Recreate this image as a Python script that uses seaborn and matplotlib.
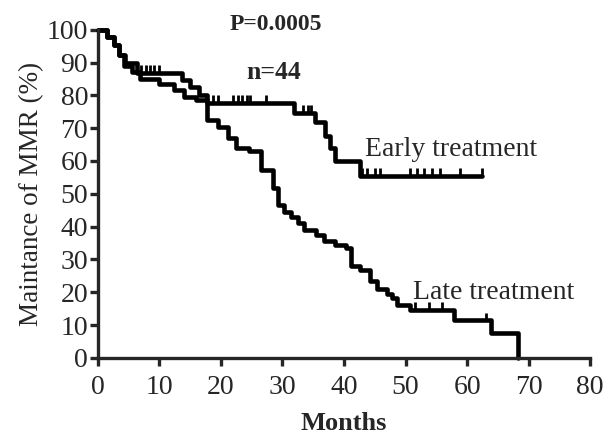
import matplotlib
matplotlib.use('Agg')
import matplotlib.pyplot as plt
import seaborn as sns
import numpy as np
import pandas as pd

# Kaplan-Meier step points (months, % maintaining MMR)
early_months = [0, 1.5, 2.6, 3.4, 4.5, 6.3, 13.7, 15.0, 16.5, 17.8, 31.8, 35.3, 36.9, 37.8, 38.6, 42.6, 62.5]
early_pct = [100, 97.7, 95.4, 92.3, 89.8, 86.8, 84.8, 82.5, 80.2, 77.7, 74.7, 72.0, 67.5, 64.0, 60.0, 55.5, 55.5]
early_cens_months = [7.0, 7.8, 8.5, 9.2, 10.0, 18.8, 19.5, 21.9, 22.8, 23.5, 24.2, 24.8, 27.3,
                     33.4, 34.2, 34.7, 43.0, 43.7, 45.0, 45.8, 50.7, 51.9, 53.0, 54.3, 55.6, 58.8, 62.5]

late_months = [0, 1.5, 2.6, 3.4, 4.2, 5.5, 6.8, 9.9, 12.4, 14.0, 16.0, 17.8, 19.6, 21.1, 22.4, 24.5,
               26.5, 28.5, 29.3, 30.3, 31.4, 32.5, 33.5, 35.5, 36.7, 38.5, 40.4, 41.2, 42.6, 44.2,
               45.3, 47.0, 47.8, 48.6, 50.7, 57.9, 63.8, 68.3]
late_pct = [100, 97.7, 95.4, 92.3, 89.0, 87.0, 85.0, 83.5, 81.7, 79.5, 78.6, 72.6, 70.4, 67.0, 64.0, 63.0,
            57.3, 51.8, 46.6, 44.5, 43.0, 41.0, 39.0, 37.5, 35.5, 34.5, 33.5, 28.0, 26.8, 23.5,
            21.0, 19.5, 18.3, 16.2, 14.5, 11.4, 7.6, 0]
late_cens_months = [51.6, 53.8, 56.0, 63.0]

x_ticks = list(range(0, 90, 10))
y_ticks = list(range(0, 110, 10))


def step_value(months, pct, t):
    # value of the step curve at time t
    idx = np.searchsorted(months, t, side='right') - 1
    return pct[idx]


def km_plot():
    sns.set_style('ticks')
    plt.rcParams['font.family'] = ['Liberation Serif', 'DejaVu Serif']

    fig = plt.figure(figsize=(6.11, 4.37), dpi=100)
    ax = fig.add_axes([0.160, 0.181, 0.806, 0.751])

    early = pd.DataFrame({'Months': early_months, 'MMR': early_pct})
    late = pd.DataFrame({'Months': late_months, 'MMR': late_pct})

    sns.lineplot(ax=ax, data=early, x='Months', y='MMR', drawstyle='steps-post',
                 color='black', linewidth=3.3, estimator=None, sort=False, clip_on=False)
    sns.lineplot(ax=ax, data=late, x='Months', y='MMR', drawstyle='steps-post',
                 color='black', linewidth=3.3, estimator=None, sort=False, clip_on=False)

    # censor marks
    early_cens = pd.DataFrame({'Months': early_cens_months,
                               'MMR': [step_value(early_months, early_pct, t) + 1.2 for t in early_cens_months]})
    late_cens = pd.DataFrame({'Months': late_cens_months,
                              'MMR': [step_value(late_months, late_pct, t) + 1.2 for t in late_cens_months]})
    for d in (early_cens, late_cens):
        sns.scatterplot(ax=ax, data=d, x='Months', y='MMR', marker='|', s=40,
                        color='black', linewidth=2.0, clip_on=False)

    ax.set_xlim(0, 80)
    ax.set_ylim(0, 100)
    ax.set_xticks(x_ticks)
    ax.set_yticks(y_ticks)
    ax.tick_params(axis='both', labelsize=20, width=2.4, length=6, direction='out')
    ax.tick_params(axis='x', pad=6)
    ax.tick_params(axis='y', pad=1)
    for side in ('left', 'bottom'):
        ax.spines[side].set_linewidth(2.4)
    sns.despine(ax=ax)

    ax.set_xlabel('Months', fontsize=19, fontweight='bold', labelpad=9)
    ax.set_ylabel('Maintance of MMR (%)', fontsize=19.5, labelpad=2)

    ax.text(29, 101.5, 'P=0.0005', fontsize=17, fontweight='bold', ha='center', va='center')
    ax.text(28.5, 87, 'n=44', fontsize=18.5, fontweight='bold', ha='center', va='center')
    ax.text(43.4, 63.4, 'Early treatment', fontsize=20, ha='left', va='center')
    ax.text(51.2, 20, 'Late treatment', fontsize=20, ha='left', va='center')

    fig.savefig('out.png', dpi=100)


if __name__ == '__main__':
    km_plot()
